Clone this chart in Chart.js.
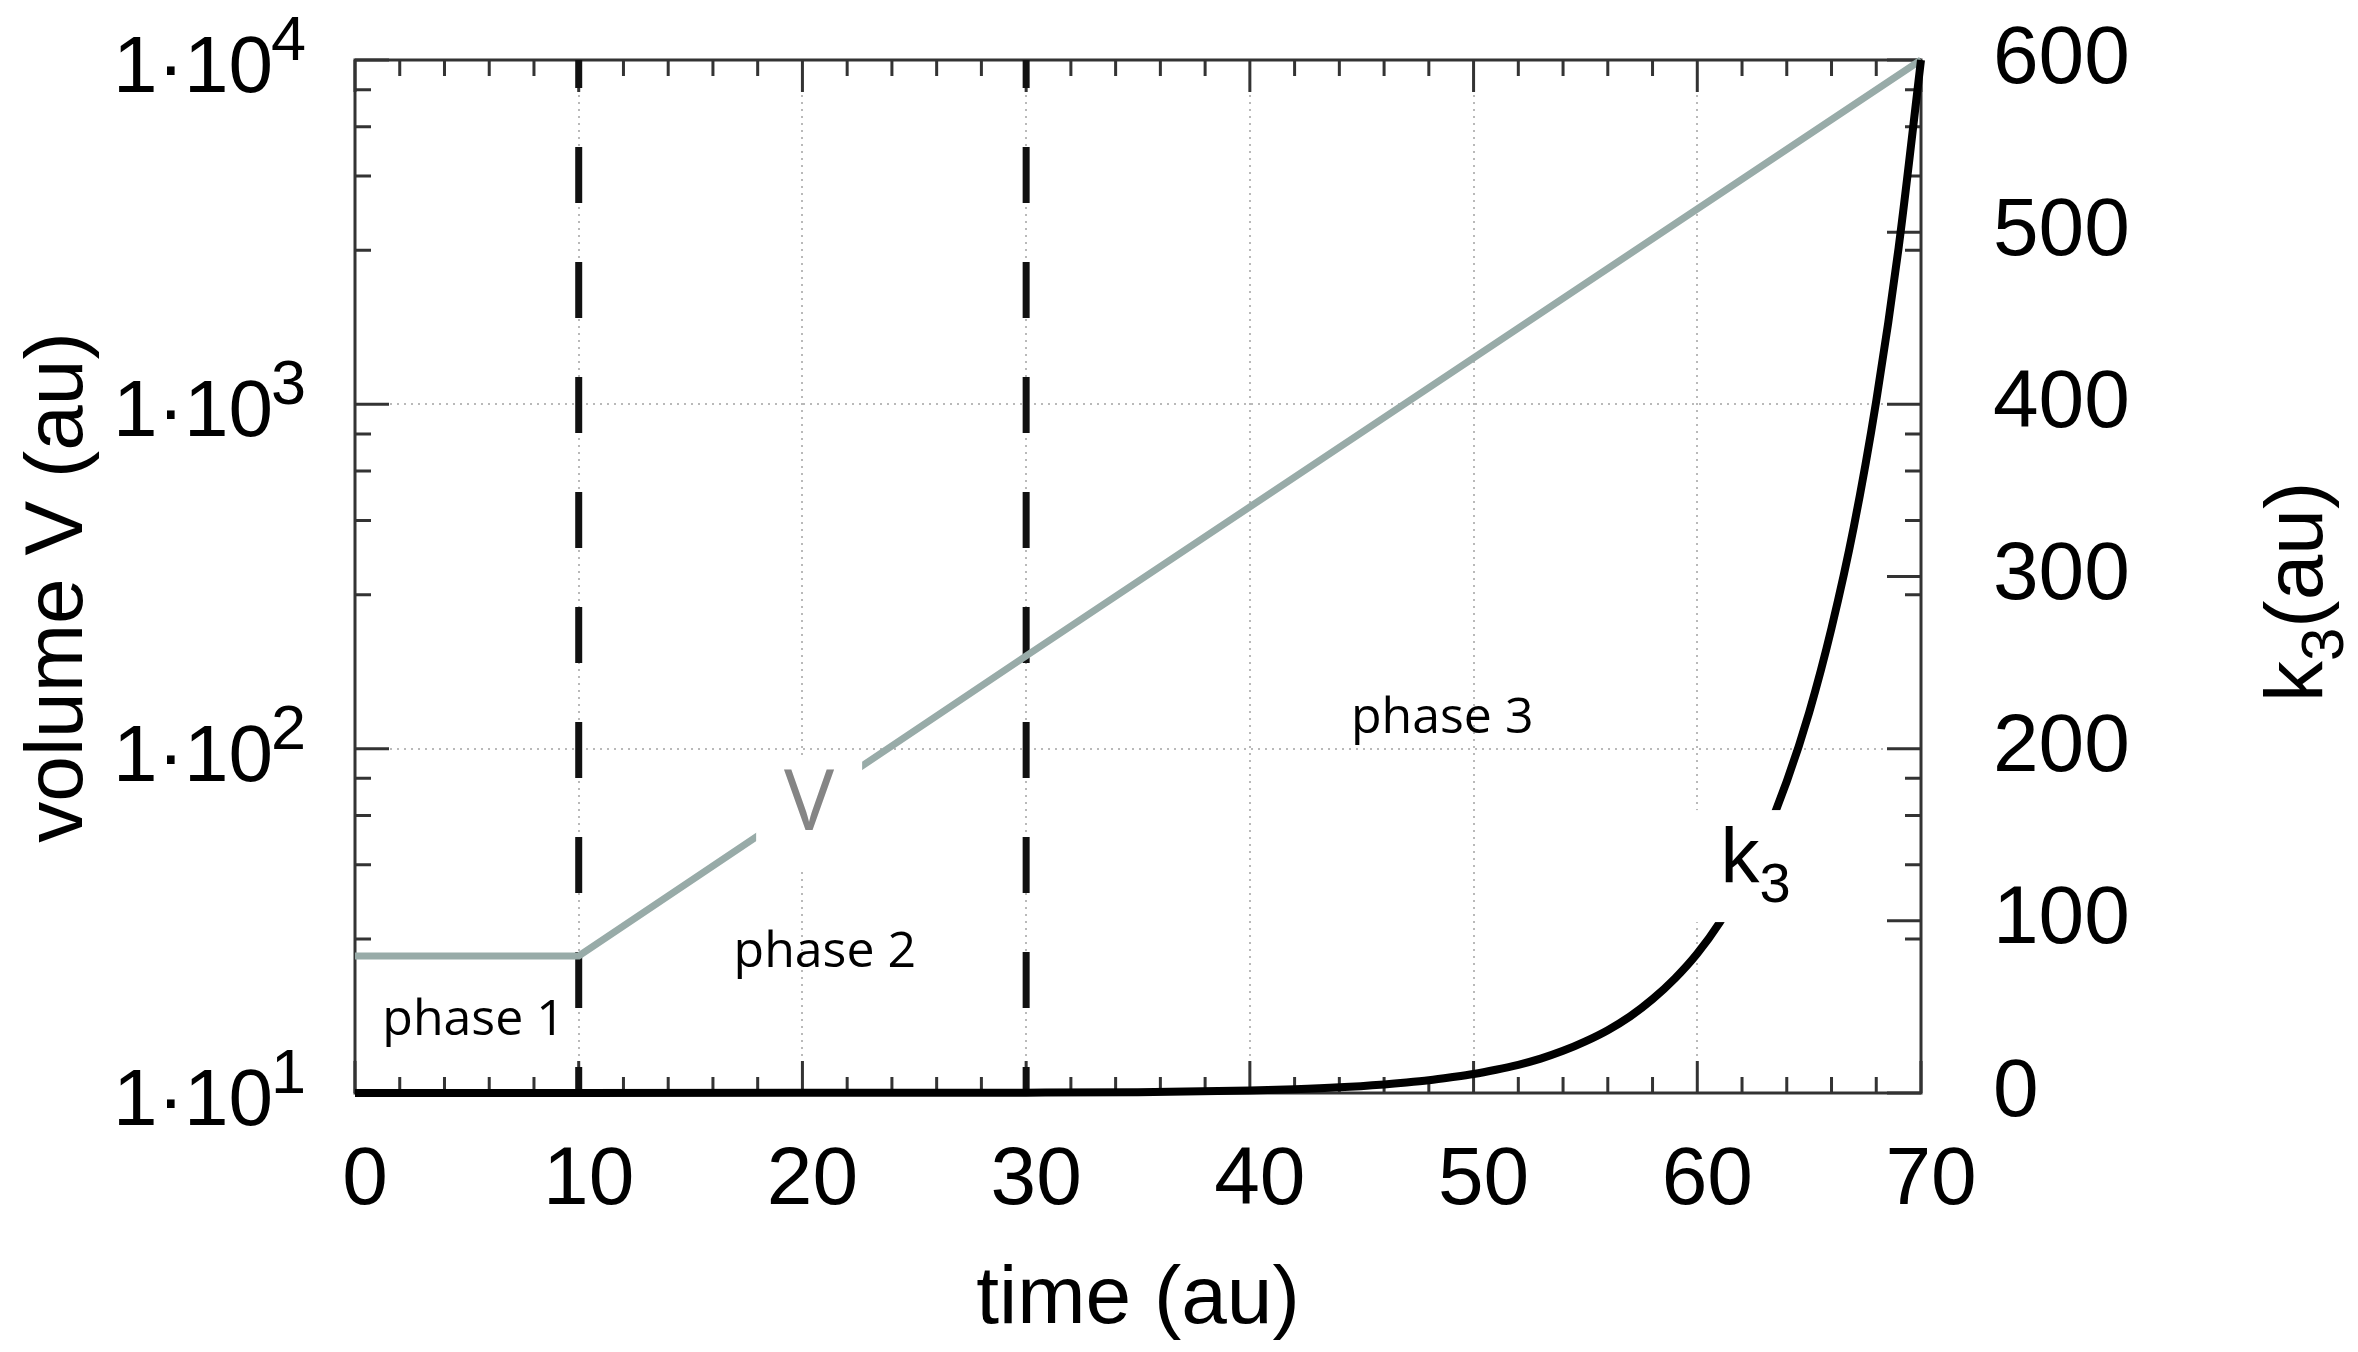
<!DOCTYPE html>
<html lang="en">
<head>
<meta charset="UTF-8">
<title>Volume V and k3 over time</title>
<script src="https://cdn.jsdelivr.net/npm/chart.js"></script>
<style>
  html, body { margin: 0; padding: 0; background: #fff; }
</style>
</head>
<body>
<canvas id="chart" width="2358" height="1352"></canvas>
<script>
// time axis (au)
const timeMin = 0;
const timeMax = 70;
const xTickLabels = ['0', '10', '20', '30', '40', '50', '60', '70'];

// volume V (log axis)
const volumeTime = [0, 10, 30, 70];
const volumeValues = [25, 25, 186, 10000];
const volumeTicks = [10, 100, 1000, 10000];
const volumeExponents = ['1', '2', '3', '4'];

// k3 (right axis)
const k3Time = [0, 10, 20, 30, 35, 40, 42, 44, 46, 47, 48, 49, 50, 51, 52, 53, 54, 55, 56, 57, 58, 59,
                60, 61, 62, 63, 64, 65, 66, 67, 68, 69, 70];
const k3Values = [0, 0, 0.1, 0.2, 0.5, 1.5, 2.2, 3.3, 5.0, 6.1, 7.4, 9.1, 11, 13.5, 16.4, 20, 24.5, 30, 36.5, 44.5, 54.5, 66.5,
                  81, 99, 121, 148, 181, 221, 270, 329, 402, 491, 600];
const k3Ticks = [0, 100, 200, 300, 400, 500, 600];

// phase boundaries (dashed) and phase names
const phaseBounds = [10, 30];
const phaseNames = ['phase 1', 'phase 2', 'phase 3'];

// where the in-plot texts sit, in data units (time, V)
const notes = {
    phases: [[5.3, 14.7], [21.0, 23.2], [48.6, 111]],
    vLabel: [20.3, 65],
    k3Label: [62.2, 131.8]   // (time, k3)
};

const SANS = '"Liberation Sans", Arial, Helvetica, sans-serif';
const HUMAN = '"Open Sans", "Noto Sans", sans-serif';
const V_COLOR = '#98aba8';

const innerPlugin = {
    id: 'inner',
    beforeDatasetsDraw(chart) {
        const { ctx, chartArea: a, scales: { x, y, y1 } } = chart;
        ctx.save();
        ctx.strokeStyle = '#333';
        ctx.lineWidth = 3;
        ctx.beginPath();
        // ticks on bottom and top, pointing inwards
        for (let t = timeMin; t <= timeMax; t += 2) {
            const px = x.getPixelForValue(t);
            const len = t % 10 === 0 ? 32 : 16;
            ctx.moveTo(px, a.bottom); ctx.lineTo(px, a.bottom - len);
            ctx.moveTo(px, a.top); ctx.lineTo(px, a.top + len);
        }
        // log ticks: decades long, 4 linear subdivisions short (both sides)
        volumeTicks.forEach((d, i) => {
            const py = y.getPixelForValue(d);
            ctx.moveTo(a.left, py); ctx.lineTo(a.left + 34, py);
            if (i < volumeTicks.length - 1) {
                for (let k = 1; k < 5; k++) {
                    const pm = y.getPixelForValue(d + k * 9 * d / 5);
                    ctx.moveTo(a.left, pm); ctx.lineTo(a.left + 16, pm);
                    ctx.moveTo(a.right, pm); ctx.lineTo(a.right - 16, pm);
                }
            }
        });
        // right axis ticks
        k3Ticks.forEach(v => {
            const py = y1.getPixelForValue(v);
            ctx.moveTo(a.right, py); ctx.lineTo(a.right - 34, py);
        });
        ctx.stroke();
        ctx.strokeRect(a.left, a.top, a.width, a.height);
        ctx.restore();
    },
    afterDatasetsDraw(chart) {
        const { ctx, chartArea: a, scales: { x, y, y1 } } = chart;
        ctx.save();

        // V label, cutting the V line
        let cx = x.getPixelForValue(notes.vLabel[0]);
        let cy = y.getPixelForValue(notes.vLabel[1]);
        ctx.fillStyle = '#fff';
        ctx.fillRect(cx - 53, cy - 56, 106, 112);
        ctx.fillStyle = '#858585';
        ctx.font = '84px ' + HUMAN;
        ctx.textAlign = 'center';
        ctx.textBaseline = 'alphabetic';
        ctx.fillText('V', cx, cy + 17);

        // k3 label, cutting the k3 curve
        cx = x.getPixelForValue(notes.k3Label[0]);
        cy = y1.getPixelForValue(notes.k3Label[1]);
        ctx.fillStyle = '#fff';
        ctx.fillRect(cx - 57, cy - 56, 114, 112);
        ctx.fillStyle = '#000';
        ctx.textAlign = 'left';
        ctx.font = '78px ' + SANS;
        ctx.fillText('k', cx - 26, cy + 17);
        ctx.font = '56px ' + SANS;
        ctx.fillText('3', cx + 13, cy + 36);

        // phase names
        ctx.fillStyle = '#000';
        ctx.font = '50px ' + HUMAN;
        ctx.textAlign = 'center';
        notes.phases.forEach((p, i) => {
            ctx.fillText(phaseNames[i], x.getPixelForValue(p[0]), y.getPixelForValue(p[1]));
        });

        // left tick labels 1·10^n
        volumeTicks.forEach((v, i) => {
            const py = y.getPixelForValue(v);
            ctx.font = '80px ' + SANS;
            ctx.textAlign = 'right';
            ctx.fillText('1\u00b710', a.left - 82, py + 32);
            ctx.font = '63px ' + SANS;
            ctx.textAlign = 'left';
            ctx.fillText(volumeExponents[i], a.left - 84, py);
        });

        // left title
        ctx.save();
        ctx.translate(82, (a.top + a.bottom) / 2 + 11);
        ctx.rotate(-Math.PI / 2);
        ctx.font = '82px ' + SANS;
        ctx.textAlign = 'center';
        ctx.fillText('volume V (au)', 0, 0);
        ctx.restore();

        // right title k3(au)
        ctx.save();
        ctx.translate(2322, 702);
        ctx.rotate(-Math.PI / 2);
        ctx.textAlign = 'left';
        ctx.font = '82px ' + SANS;
        const wk = ctx.measureText('k').width;
        ctx.fillText('k', 0, 0);
        ctx.font = '60px ' + SANS;
        const w3 = ctx.measureText('3').width;
        ctx.fillText('3', wk, 21);
        ctx.font = '82px ' + SANS;
        ctx.fillText('(au)', wk + w3, 0);
        ctx.restore();

        ctx.restore();
    }
};

const gridDots = { color: '#b9b9b9', lineWidth: 2, drawTicks: false };

new Chart(document.getElementById('chart').getContext('2d'), {
    type: 'line',
    data: {
        datasets: [
            {
                label: 'k3',
                data: k3Time.map((t, i) => ({ x: t, y: k3Values[i] })),
                yAxisID: 'y1',
                borderColor: '#000',
                borderWidth: 8,
                pointRadius: 0,
                cubicInterpolationMode: 'monotone',
                clip: false
            },
            {
                label: 'V',
                data: volumeTime.map((t, i) => ({ x: t, y: volumeValues[i] })),
                yAxisID: 'y',
                borderColor: V_COLOR,
                borderWidth: 7,
                pointRadius: 0,
                tension: 0,
                clip: false
            },
            ...phaseBounds.map(t => ({
                label: 'boundary ' + t,
                data: [{ x: t, y: volumeTicks[0] }, { x: t, y: volumeTicks[volumeTicks.length - 1] }],
                yAxisID: 'y',
                borderColor: '#111',
                borderWidth: 7,
                borderDash: [56, 59],
                borderDashOffset: 30,
                borderCapStyle: 'butt',
                pointRadius: 0
            }))
        ]
    },
    options: {
        responsive: false,
        animation: false,
        devicePixelRatio: 1,
        layout: { padding: 0 },
        plugins: { legend: { display: false }, tooltip: { enabled: false } },
        scales: {
            x: {
                type: 'linear',
                min: timeMin,
                max: timeMax,
                grid: gridDots,
                border: { display: false, dash: [2, 5] },
                ticks: {
                    stepSize: 10,
                    color: '#000',
                    font: { family: SANS, size: 82 },
                    padding: 39,
                    labelOffset: 10,
                    maxRotation: 0,
                    callback: (v, i) => xTickLabels[i]
                },
                title: {
                    display: true,
                    text: 'time (au)',
                    color: '#000',
                    font: { family: SANS, size: 82 },
                    padding: { top: 0, bottom: 2 }
                },
                afterFit: s => { s.height = 1352 - 1093; }
            },
            y: {
                type: 'logarithmic',
                position: 'left',
                min: volumeTicks[0],
                max: volumeTicks[volumeTicks.length - 1],
                grid: gridDots,
                border: { display: false, dash: [2, 5] },
                ticks: { display: false },
                afterBuildTicks: s => { s.ticks = volumeTicks.map(v => ({ value: v })); },
                afterFit: s => { s.width = 355; s.paddingTop = 60; s.paddingBottom = 0; }
            },
            y1: {
                type: 'linear',
                position: 'right',
                min: 0,
                max: 600,
                grid: { drawOnChartArea: false, drawTicks: false },
                border: { display: false },
                ticks: {
                    stepSize: 100,
                    color: '#000',
                    font: { family: SANS, size: 82 },
                    padding: 72
                },
                // fixed room: 60px above the plot for the top labels
                afterFit: s => { s.width = 2358 - 1921; s.paddingTop = 60; s.paddingBottom = 0; }
            }
        }
    },
    plugins: [innerPlugin]
});
</script>
</body>
</html>
